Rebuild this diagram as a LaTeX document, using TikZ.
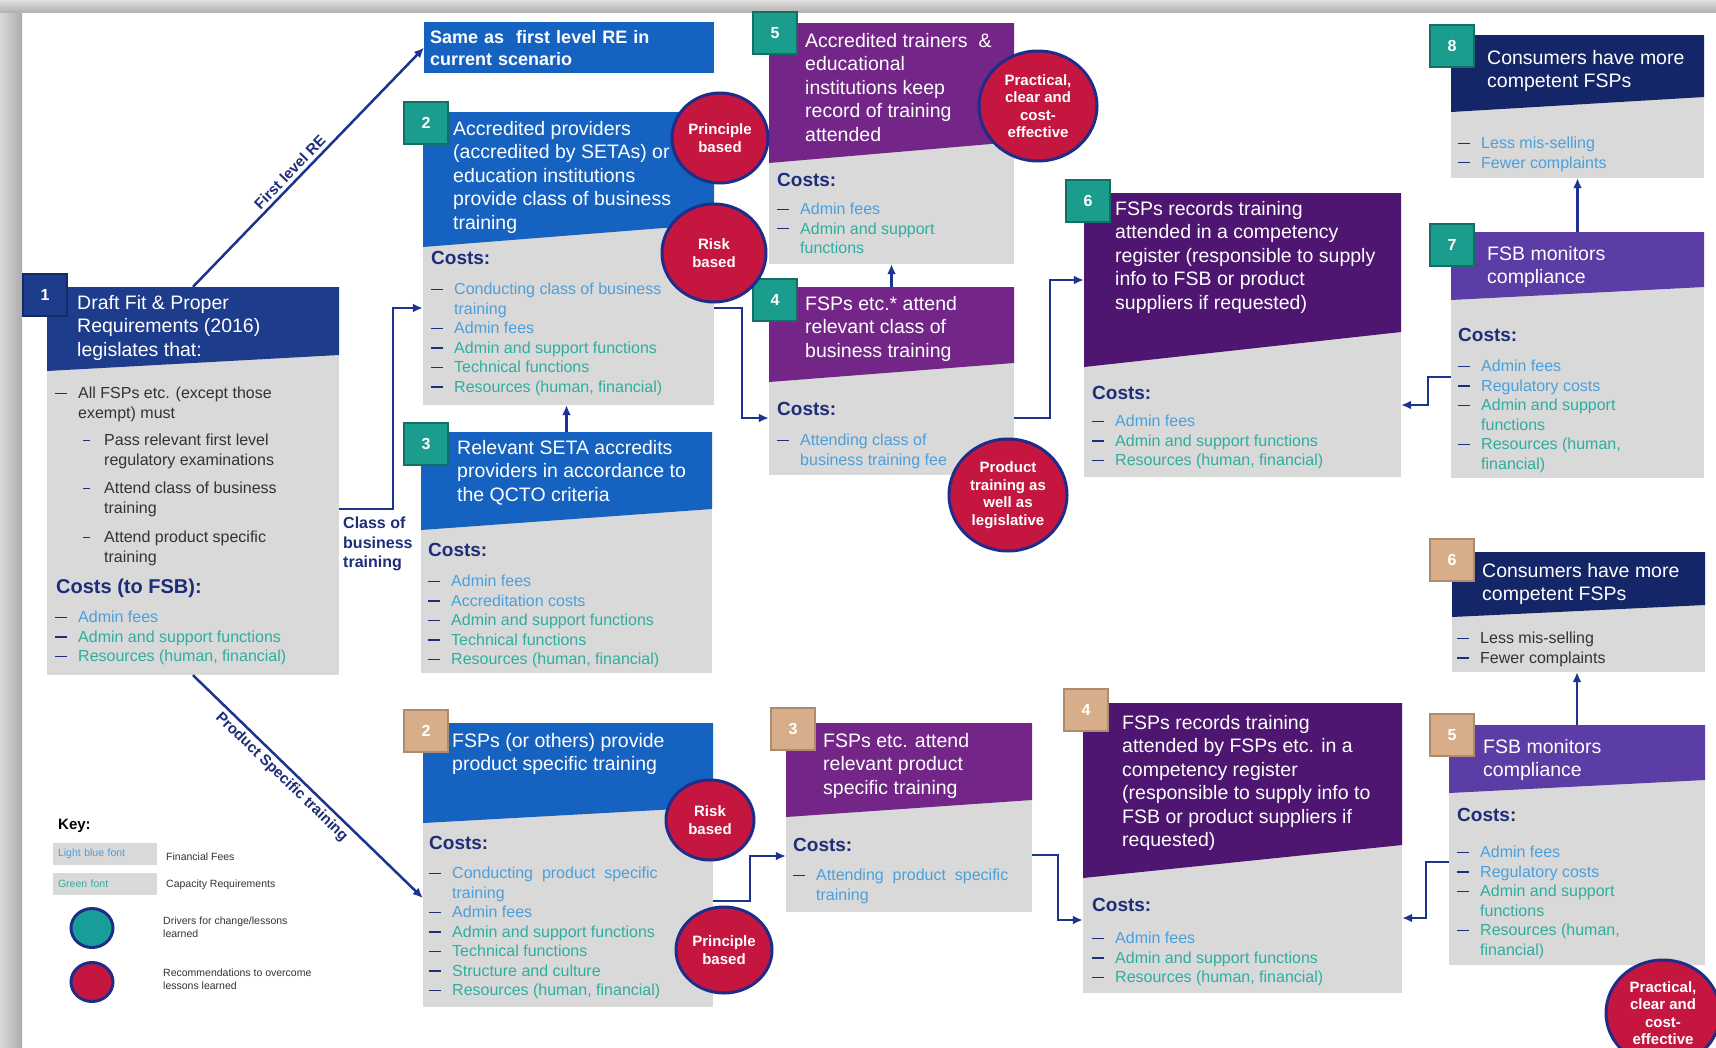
\documentclass[tikz,border=0pt]{standalone}
\usepackage{fontspec}
\setmainfont{Liberation Sans}
\usepackage{tikz}
\usetikzlibrary{arrows.meta,positioning,calc,fit,shapes.geometric}
\usepackage{xcolor}

\definecolor{hdrnavy}{HTML}{1E3C8C}
\definecolor{hdrblue}{HTML}{1662C0}
\definecolor{hdrpurple}{HTML}{732687}
\definecolor{hdrdeep}{HTML}{4E1670}
\definecolor{hdrviolet}{HTML}{5C3CA5}
\definecolor{hdrdark}{HTML}{152668}
\definecolor{boxgray}{HTML}{D9D9D9}
\definecolor{costnavy}{HTML}{1E2D78}
\definecolor{txtblue}{HTML}{4AA0DC}
\definecolor{txtgreen}{HTML}{2EAE9F}
\definecolor{arrownavy}{HTML}{1C3390}
\definecolor{recred}{HTML}{C4163E}
\definecolor{ringnavy}{HTML}{1E2D8A}
\definecolor{badgeteal}{HTML}{1B9D8E}
\definecolor{badgetan}{HTML}{D8AE8A}
\definecolor{keyteal}{HTML}{1A9E9A}

\newcommand{\itm}{\makebox[23pt][l]{\textcolor{costnavy}{\rule[0.3em]{12pt}{1.3pt}}}}
\newcommand{\ind}{\hspace*{23pt}}
\newcommand{\subitm}{\hspace*{28pt}\makebox[21pt][l]{\textcolor{costnavy}{\rule[0.3em]{7pt}{1.3pt}}}}
\newcommand{\subind}{\hspace*{49pt}}
\newcommand{\tb}[1]{\textcolor{txtblue}{#1}}
\newcommand{\tg}[1]{\textcolor{txtgreen}{#1}}
% box: name, x1, y1, x2, y2, header bottom left, header bottom right, colour
\newcommand{\fpbox}[8]{%
  \fill[boxgray] (#2,#3) rectangle (#4,#5);
  \fill[#8] (#2,#3) -- (#4,#3) -- (#4,#7) -- (#2,#6) -- cycle;
  \node[fit={(#2,#3) (#4,#5)},inner sep=0pt] (#1) {};}

\begin{document}
\begin{tikzpicture}[x=1pt,y=-1pt,>={Latex[length=10pt,width=9pt]},
  hdrtxt/.style={anchor=north west,inner sep=0pt,align=left,text=white,font=\fontsize{19.5}{23.5}\selectfont},
  bodytxt/.style={anchor=north west,inner sep=0pt,align=left,font=\fontsize{16}{19.5}\selectfont},
  coststxt/.style={anchor=north west,inner sep=0pt,text=costnavy,font=\bfseries\fontsize{19}{21}\selectfont},
  badge/.style={minimum width=44pt,minimum height=42pt,inner sep=0pt,text=white,font=\bfseries\fontsize{16}{16}\selectfont,fill=badgeteal,draw=badgeteal!70!black,line width=1.5pt},
  tanbadge/.style={badge,fill=badgetan,draw=badgetan!80!black},
  rec/.style={ellipse,fill=recred,draw=ringnavy,line width=3pt,inner sep=0pt,text=white,align=center,font=\bfseries\fontsize{15}{17.5}\selectfont},
  flow/.style={->,draw=arrownavy,line width=2.5pt},
  lbl/.style={text=costnavy,font=\bfseries\fontsize{16}{19.5}\selectfont},
  swatch/.style={fill=boxgray,minimum height=22pt,inner xsep=5pt,inner ysep=0pt,text width=94pt,align=left,font=\fontsize{10.5}{12}\selectfont},
  keytxt/.style={inner sep=0pt,text=black!80,font=\fontsize{10.5}{13}\selectfont},
  keydot/.style={ellipse,draw=ringnavy,line width=3pt,minimum width=42pt,minimum height=39pt,inner sep=0pt}]
\useasboundingbox (0,0) rectangle (1716,1047);
\clip (0,0) rectangle (1716,1047);
\fill[white] (0,0) rectangle (1716,1047);
\shade[left color=gray!30,right color=gray!65] (0,0) rectangle (22,1047);
\shade[top color=gray!25,bottom color=gray!60] (0,0) rectangle (1716,12);

% class of business path
\fpbox{b1}{47}{287}{339}{675}{371}{355}{hdrnavy}
\fpbox{b2}{423}{112}{714}{405}{247}{224}{hdrblue}
\fpbox{b3}{421}{432}{712}{673}{530}{509}{hdrblue}
\fpbox{b5}{769}{23}{1014}{264}{163}{142}{hdrpurple}
\fpbox{b4}{769}{287}{1014}{475}{382}{363}{hdrpurple}
\fpbox{b6}{1084}{193}{1401}{477}{367}{332}{hdrdeep}
\fpbox{b7}{1451}{232}{1704}{478}{300}{287}{hdrviolet}
\fpbox{b8}{1451}{35}{1704}{178}{112}{97}{hdrdark}
% product specific path
\fpbox{p2}{423}{723}{713}{1007}{823}{807}{hdrblue}
\fpbox{p3}{786}{723}{1032}{912}{817}{800}{hdrpurple}
\fpbox{p4}{1083}{703}{1402}{993}{878}{845}{hdrdeep}
\fpbox{p5}{1449}{725}{1705}{965}{793}{780}{hdrviolet}
\fpbox{p6}{1452}{552}{1705}{672}{617}{605}{hdrdark}

\node[fill=hdrblue,anchor=north west,minimum width=290pt,minimum height=51pt,inner xsep=6pt,text width=278pt,align=left,text=white,font=\bfseries\fontsize{18}{22}\selectfont] (same) at (424,22) {Same as\ \ first level RE in\\current scenario};

% connectors
\draw[flow] (b1.north) -- node[lbl,sloped,above,pos=0.45,font=\bfseries\fontsize{15}{15}\selectfont] (lfl) {First level RE} (same.west);
\draw[flow] (b1.south) -- node[lbl,sloped,below,pos=0.42,font=\bfseries\fontsize{15}{15}\selectfont] (lps) {Product Specific training} ([yshift=-33pt]p2.west);
\draw[flow] ([yshift=-28pt]b1.east) -- ++(54,0) |- ([yshift=-49.5pt]b2.west);
\node[lbl,anchor=north west,inner sep=0pt,align=left] (lcob) at (343,517) {Class of\\business\\training};
\draw[flow] (b3.north) -- (b3.north |- b2.south);
\draw[flow] ([yshift=-49.5pt]b2.east) -- ++(28,0) |- ([yshift=-37pt]b4.west);
\draw[flow] (b4.north) -- (b4.north |- b5.south);
\draw[flow] ([yshift=-37pt]b4.east) -- ++(36,0) |- ([yshift=55pt]b6.west);
\draw[flow] ([yshift=-22pt]b7.west) -- ++(-23,0) |- ([yshift=-70pt]b6.east);
\draw[flow] (b7.north) -- (b8.south);
\draw[flow] ([yshift=-36pt]p2.east) -- ++(37,0) |- ([yshift=-38.5pt]p3.west);
\draw[flow] ([yshift=-37.5pt]p3.east) -- ++(26,0) |- ([yshift=-72pt]p4.west);
\draw[flow] ([yshift=-17pt]p5.west) -- ++(-23,0) |- ([yshift=-70pt]p4.east);
\draw[flow] (p5.north) -- (p5.north |- p6.south);

% box texts
\node[hdrtxt] (b1h) at (77,295) {Draft Fit \& Proper\\Requirements (2016)\\legislates that:};
\node[bodytxt,text=black!80] (b1t) at (55,387) {\itm All FSPs etc. (except those\\\ind exempt) must\\[8pt]
  \subitm Pass relevant first level\\\subind regulatory examinations\\[9pt]
  \subitm Attend class of business\\\subind training\\[10pt]
  \subitm Attend product specific\\\subind training};
\node[coststxt,font=\bfseries\fontsize{20}{22}\selectfont] (b1c) at (56,579) {Costs (to FSB):};
\node[bodytxt] (b1i) at (55,611) {\itm\tb{Admin fees}\\\itm\tg{Admin and support functions}\\\itm\tg{Resources (human, financial)}};

\node[hdrtxt] (b2h) at (453,121) {Accredited providers\\(accredited by SETAs) or\\education institutions\\provide class of business\\training};
\node[coststxt] (b2c) at (431,251) {Costs:};
\node[bodytxt] (b2i) at (431,283) {\itm\tb{Conducting class of business}\\\ind\tb{training}\\\itm\tb{Admin fees}\\\itm\tg{Admin and support functions}\\\itm\tg{Technical functions}\\\itm\tg{Resources (human, financial)}};

\node[hdrtxt] (b3h) at (457,440) {Relevant SETA accredits\\providers in accordance to\\the QCTO criteria};
\node[coststxt] (b3c) at (428,543) {Costs:};
\node[bodytxt] (b3i) at (428,575) {\itm\tb{Admin fees}\\\itm\tb{Accreditation costs}\\\itm\tg{Admin and support functions}\\\itm\tg{Technical functions}\\\itm\tg{Resources (human, financial)}};

\node[hdrtxt] (b5h) at (805,33) {Accredited trainers\ \ \&\\educational\\institutions keep\\record of training\\attended};
\node[coststxt] (b5c) at (777,173) {Costs:};
\node[bodytxt] (b5i) at (777,203) {\itm\tb{Admin fees}\\\itm\tg{Admin and support}\\\ind\tg{functions}};

\node[hdrtxt] (b4h) at (805,296) {FSPs etc.* attend\\relevant class of\\business training};
\node[coststxt] (b4c) at (777,402) {Costs:};
\node[bodytxt] (b4i) at (777,434) {\itm\tb{Attending class of}\\\ind\tb{business training fee}};

\node[hdrtxt] (b6h) at (1115,201) {FSPs records training\\attended in a competency\\register (responsible to supply\\info to FSB or product\\suppliers if requested)};
\node[coststxt] (b6c) at (1092,386) {Costs:};
\node[bodytxt] (b6i) at (1092,415) {\itm\tb{Admin fees}\\\itm\tg{Admin and support functions}\\\itm\tg{Resources (human, financial)}};

\node[hdrtxt] (b7h) at (1487,246) {FSB monitors\\compliance};
\node[coststxt] (b7c) at (1458,328) {Costs:};
\node[bodytxt] (b7i) at (1458,360) {\itm\tb{Admin fees}\\\itm\tb{Regulatory costs}\\\itm\tg{Admin and support}\\\ind\tg{functions}\\\itm\tg{Resources (human,}\\\ind\tg{financial)}};

\node[hdrtxt] (b8h) at (1487,50) {Consumers have more\\competent FSPs};
\node[bodytxt] (b8i) at (1458,137) {\itm\tb{Less mis-selling}\\\itm\tb{Fewer complaints}};

\node[hdrtxt] (p2h) at (452,733) {FSPs (or others) provide\\product specific training};
\node[coststxt] (p2c) at (429,836) {Costs:};
\node[bodytxt] (p2i) at (429,867) {\itm\tb{Conducting\ \ product\ \ specific}\\\ind\tb{training}\\\itm\tb{Admin fees}\\\itm\tg{Admin and support functions}\\\itm\tg{Technical functions}\\\itm\tg{Structure and culture}\\\itm\tg{Resources (human, financial)}};

\node[hdrtxt] (p3h) at (823,733) {FSPs etc. attend\\relevant product\\specific training};
\node[coststxt] (p3c) at (793,838) {Costs:};
\node[bodytxt] (p3i) at (793,869) {\itm\tb{Attending\ \ product\ \ specific}\\\ind\tb{training}};

\node[hdrtxt] (p4h) at (1122,715) {FSPs records training\\attended by FSPs etc. in a\\competency register\\(responsible to supply info to\\FSB or product suppliers if\\requested)};
\node[coststxt] (p4c) at (1092,898) {Costs:};
\node[bodytxt] (p4i) at (1092,932) {\itm\tb{Admin fees}\\\itm\tg{Admin and support functions}\\\itm\tg{Resources (human, financial)}};

\node[hdrtxt] (p5h) at (1483,739) {FSB monitors\\compliance};
\node[coststxt] (p5c) at (1457,808) {Costs:};
\node[bodytxt] (p5i) at (1457,846) {\itm\tb{Admin fees}\\\itm\tb{Regulatory costs}\\\itm\tg{Admin and support}\\\ind\tg{functions}\\\itm\tg{Resources (human,}\\\ind\tg{financial)}};

\node[hdrtxt] (p6h) at (1482,563) {Consumers have more\\competent FSPs};
\node[bodytxt,text=black!80] (p6i) at (1457,632) {\itm Less mis-selling\\\itm Fewer complaints};

% step numbers
\node[badge,fill=hdrnavy,draw=hdrnavy!70!black] (n1) at (45,295) {1};
\node[badge] (n2) at (426,123) {2};
\node[badge] (n3) at (426,444) {3};
\node[badge] (n5) at (775,33) {5};
\node[badge] (n4) at (775,300) {4};
\node[badge] (n6) at (1088,201) {6};
\node[badge] (n7) at (1452,245) {7};
\node[badge] (n8) at (1452,46) {8};
\node[tanbadge] (m2) at (426,731) {2};
\node[tanbadge] (m3) at (793,729) {3};
\node[tanbadge] (m4) at (1086,710) {4};
\node[tanbadge] (m5) at (1452,735) {5};
\node[tanbadge] (m6) at (1452,560) {6};

% recommendations
\node[rec,minimum width=96pt,minimum height=90pt] (rp1) at (720,138) {Principle\\based};
\node[rec,minimum width=104pt,minimum height=98pt] (rr1) at (714,253) {Risk\\based};
\node[rec,minimum width=118pt,minimum height=110pt] (rc1) at (1038,106) {Practical,\\clear and\\cost-\\effective};
\node[rec,minimum width=118pt,minimum height=112pt] (rl1) at (1008,495) {Product\\training as\\well as\\legislative};
\node[rec,minimum width=88pt,minimum height=80pt] (rr2) at (710,820) {Risk\\based};
\node[rec,minimum width=96pt,minimum height=86pt] (rp2) at (724,950) {Principle\\based};
\node[rec,minimum width=114pt,minimum height=106pt] (rc2) at (1663,1013) {Practical,\\clear and\\cost-\\effective};

% key
\node[anchor=north west,inner sep=0pt,font=\bfseries\fontsize{15}{15}\selectfont] (key) at (58,819) {Key:};
\node[swatch,text=txtblue] (kb) at (105,854) {Light blue font};
\node[swatch,text=txtgreen] (kg) at (105,884) {Green font};
\node[keytxt,anchor=west] (kbl) at (166,857) {Financial Fees};
\node[keytxt,anchor=west] (kgl) at (166,885) {Capacity Requirements};
\node[keydot,fill=keyteal] (kd1) at (92,928) {};
\node[keytxt,anchor=north west,align=left] (kd1l) at (163,917) {Drivers for change/lessons\\learned};
\node[keydot,fill=recred] (kd2) at (92,982) {};
\node[keytxt,anchor=north west,align=left] (kd2l) at (163,969) {Recommendations to overcome\\lessons learned};
\end{tikzpicture}
\end{document}
